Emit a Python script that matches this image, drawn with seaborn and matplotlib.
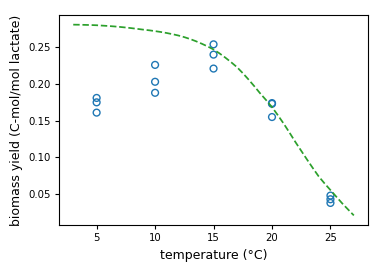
import numpy as np
import pandas as pd
import seaborn as sns
import matplotlib
matplotlib.use("Agg")
import matplotlib.pyplot as plt

# measured yields (replicates per temperature)
temp_obs = [5, 5, 5, 10, 10, 10, 15, 15, 15, 20, 20, 20, 25, 25, 25]
yield_obs = [0.181, 0.175, 0.161,
             0.226, 0.203, 0.188,
             0.254, 0.240, 0.221,
             0.174, 0.173, 0.155,
             0.048, 0.043, 0.038]

# model curve (every 0.5 degC)
temp_fit = [3, 3.5, 4, 4.5, 5, 5.5, 6, 6.5, 7, 7.5, 8, 8.5, 9, 9.5,
            10, 10.5, 11, 11.5, 12, 12.5, 13, 13.5, 14, 14.5, 15, 15.5,
            16, 16.5, 17, 17.5, 18, 18.5, 19, 19.5, 20, 20.5, 21, 21.5,
            22, 22.5, 23, 23.5, 24, 24.5, 25, 25.5, 26, 26.5, 27]
yield_fit = [0.2808, 0.2807, 0.2805, 0.2803, 0.2800, 0.2795, 0.2790,
             0.2784, 0.2777, 0.2769, 0.2760, 0.2750, 0.2740, 0.2731,
             0.2720, 0.2708, 0.2694, 0.2678, 0.2660, 0.2638, 0.2612,
             0.2582, 0.2548, 0.2511, 0.2470, 0.2418, 0.2360, 0.2297,
             0.2230, 0.2148, 0.2060, 0.1967, 0.1870, 0.1780, 0.1685,
             0.1575, 0.1460, 0.1337, 0.1210, 0.1090, 0.0970, 0.0853,
             0.0740, 0.0645, 0.0555, 0.0465, 0.0375, 0.0292, 0.0210]

obs = pd.DataFrame({"temp": temp_obs, "yield": yield_obs})
fit = pd.DataFrame({"temp": temp_fit, "yield": yield_fit})

fig = plt.figure(figsize=(3.82, 2.75), dpi=100)
ax = fig.add_axes([0.155, 0.182, 0.808, 0.763])

sns.scatterplot(data=obs, x="temp", y="yield", ax=ax, marker="o", s=24,
                facecolor="none", edgecolor="tab:blue", linewidth=1.0)
sns.lineplot(data=fit, x="temp", y="yield", ax=ax, color="tab:green",
             linestyle="--", linewidth=1.25)

ax.set_xticks([5, 10, 15, 20, 25])
ax.set_yticks([0.05, 0.10, 0.15, 0.20, 0.25])
ax.set_xlabel("temperature (°C)", fontsize=9)
ax.set_ylabel("biomass yield (C-mol/mol lactate)", fontsize=9)
ax.tick_params(labelsize=7.3, length=3, pad=3)

fig.savefig("out.png", dpi=100)
